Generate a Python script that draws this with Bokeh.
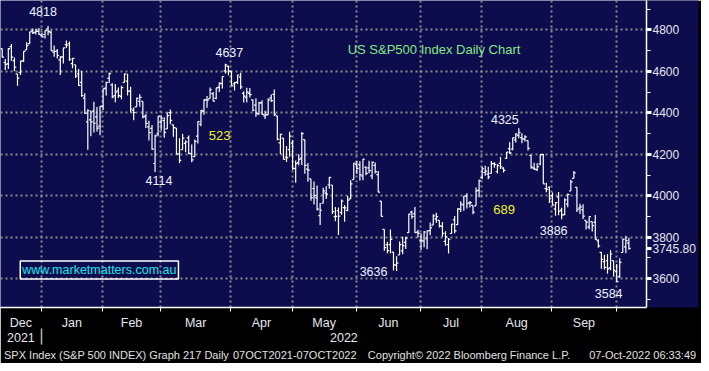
from bokeh.plotting import figure
from bokeh.models import (Range1d, FixedTicker, LinearAxis, Label,
                          CustomJSTickFormatter, ColumnDataSource)
from bokeh.embed import file_html
from bokeh.resources import INLINE
import datetime as dt

# ---------------- data (S&P 500 daily OHLC) ----------------
dates = [
 "2021-12-13","2021-12-14","2021-12-15","2021-12-16","2021-12-17","2021-12-20","2021-12-21","2021-12-22","2021-12-23","2021-12-27","2021-12-28","2021-12-29","2021-12-30","2021-12-31",
 "2022-01-03","2022-01-04","2022-01-05","2022-01-06","2022-01-07","2022-01-10","2022-01-11","2022-01-12","2022-01-13","2022-01-14","2022-01-18","2022-01-19","2022-01-20","2022-01-21","2022-01-24","2022-01-25","2022-01-26","2022-01-27","2022-01-28","2022-01-31",
 "2022-02-01","2022-02-02","2022-02-03","2022-02-04","2022-02-07","2022-02-08","2022-02-09","2022-02-10","2022-02-11","2022-02-14","2022-02-15","2022-02-16","2022-02-17","2022-02-18","2022-02-22","2022-02-23","2022-02-24","2022-02-25","2022-02-28",
 "2022-03-01","2022-03-02","2022-03-03","2022-03-04","2022-03-07","2022-03-08","2022-03-09","2022-03-10","2022-03-11","2022-03-14","2022-03-15","2022-03-16","2022-03-17","2022-03-18","2022-03-21","2022-03-22","2022-03-23","2022-03-24","2022-03-25","2022-03-28","2022-03-29","2022-03-30","2022-03-31",
 "2022-04-01","2022-04-04","2022-04-05","2022-04-06","2022-04-07","2022-04-08","2022-04-11","2022-04-12","2022-04-13","2022-04-14","2022-04-18","2022-04-19","2022-04-20","2022-04-21","2022-04-22","2022-04-25","2022-04-26","2022-04-27","2022-04-28","2022-04-29",
 "2022-05-02","2022-05-03","2022-05-04","2022-05-05","2022-05-06","2022-05-09","2022-05-10","2022-05-11","2022-05-12","2022-05-13","2022-05-16","2022-05-17","2022-05-18","2022-05-19","2022-05-20","2022-05-23","2022-05-24","2022-05-25","2022-05-26","2022-05-27","2022-05-31",
 "2022-06-01","2022-06-02","2022-06-03","2022-06-06","2022-06-07","2022-06-08","2022-06-09","2022-06-10","2022-06-13","2022-06-14","2022-06-15","2022-06-16","2022-06-17","2022-06-21","2022-06-22","2022-06-23","2022-06-24","2022-06-27","2022-06-28","2022-06-29","2022-06-30",
 "2022-07-01","2022-07-05","2022-07-06","2022-07-07","2022-07-08","2022-07-11","2022-07-12","2022-07-13","2022-07-14","2022-07-15","2022-07-18","2022-07-19","2022-07-20","2022-07-21","2022-07-22","2022-07-25","2022-07-26","2022-07-27","2022-07-28","2022-07-29",
 "2022-08-01","2022-08-02","2022-08-03","2022-08-04","2022-08-05","2022-08-08","2022-08-09","2022-08-10","2022-08-11","2022-08-12","2022-08-15","2022-08-16","2022-08-17","2022-08-18","2022-08-19","2022-08-22","2022-08-23","2022-08-24","2022-08-25","2022-08-26","2022-08-29","2022-08-30","2022-08-31",
 "2022-09-01","2022-09-02","2022-09-06","2022-09-07","2022-09-08","2022-09-09","2022-09-12","2022-09-13","2022-09-14","2022-09-15","2022-09-16","2022-09-19","2022-09-20","2022-09-21","2022-09-22","2022-09-23","2022-09-26","2022-09-27","2022-09-28","2022-09-29","2022-09-30",
 "2022-10-03","2022-10-04","2022-10-05","2022-10-06",
]
opens = [
 4710.30,4642.99,4636.46,4719.13,4652.50,4587.90,4594.96,4650.36,4703.96,4733.99,4795.49,4788.64,4794.23,4775.21,
 4778.14,4804.51,4787.99,4693.39,4697.66,4655.34,4669.14,4728.59,4733.56,4637.99,4632.24,4588.03,4547.35,4471.38,4356.32,4366.64,4408.43,4380.58,4336.19,4431.79,
 4519.57,4566.39,4535.41,4482.79,4505.75,4480.02,4547.00,4553.24,4506.27,4412.61,4429.28,4455.75,4456.06,4384.57,4332.74,4324.93,4155.77,4298.38,4354.17,
 4363.14,4322.56,4401.31,4342.12,4327.01,4202.66,4223.10,4252.55,4279.50,4202.75,4188.82,4288.14,4345.11,4407.34,4462.40,4469.10,4493.10,4469.98,4522.66,4541.09,4602.86,4624.20,4599.02,
 4540.32,4547.97,4572.45,4494.17,4474.65,4494.15,4462.64,4437.59,4394.30,4449.12,4385.63,4390.63,4472.26,4489.17,4385.83,4255.34,4278.14,4186.52,4222.58,4253.75,
 4130.61,4159.78,4181.18,4270.43,4128.17,4081.27,4035.18,3990.08,3903.95,3963.90,4013.02,4052.00,4051.98,3899.00,3927.76,3919.42,3942.94,3929.59,3984.60,4077.43,4151.09,
 4149.78,4095.41,4137.57,4134.72,4096.47,4147.12,4101.65,3974.39,3838.15,3763.52,3764.05,3728.18,3665.90,3715.31,3733.89,3774.71,3821.75,3920.76,3913.00,3825.09,3785.99,
 3781.00,3792.61,3831.98,3858.85,3888.26,3880.94,3851.95,3779.67,3763.99,3818.00,3883.79,3860.73,3935.32,3955.47,3998.43,3965.72,3953.22,3951.43,4026.13,4087.33,
 4112.38,4104.21,4107.96,4154.85,4115.87,4155.93,4133.11,4181.02,4227.40,4225.02,4269.37,4290.46,4280.40,4273.13,4266.31,4195.08,4133.09,4126.55,4153.26,4198.74,4034.58,4041.25,4000.67,
 3936.73,3994.66,3930.89,3909.43,3959.94,4022.94,4083.67,4040.90,3940.73,3932.41,3880.95,3849.91,3875.23,3871.40,3782.36,3727.14,3682.72,3686.44,3651.94,3687.01,3633.48,
 3609.78,3726.46,3753.25,3771.97,
]
highs = [
 4710.30,4660.47,4712.60,4731.99,4666.70,4587.90,4651.14,4697.67,4740.74,4791.49,4807.02,4804.06,4808.93,4786.83,
 4796.64,4818.62,4797.70,4725.01,4707.95,4673.02,4714.13,4748.83,4744.13,4665.13,4632.24,4611.55,4602.11,4494.52,4417.35,4411.01,4453.23,4428.74,4432.72,4516.89,
 4550.49,4595.31,4542.88,4539.66,4521.86,4531.32,4590.03,4588.92,4526.33,4426.22,4472.77,4489.55,4456.06,4394.60,4362.12,4341.51,4294.73,4385.34,4388.84,
 4378.45,4401.48,4416.78,4342.12,4327.01,4276.94,4299.40,4268.28,4291.01,4247.57,4271.05,4358.90,4412.67,4465.40,4481.75,4522.00,4501.07,4520.58,4546.03,4575.65,4637.30,4627.77,4603.07,
 4548.70,4583.50,4593.45,4503.94,4521.16,4520.41,4464.35,4471.00,4453.92,4460.46,4410.31,4471.03,4488.29,4512.94,4385.83,4299.02,4278.14,4240.71,4308.45,4269.68,
 4169.81,4200.10,4307.66,4270.43,4157.69,4081.27,4068.82,4049.09,3964.80,4038.88,4046.46,4090.72,4051.98,3945.96,3943.42,3981.88,3955.68,3999.33,4075.14,4158.49,4168.34,
 4166.54,4177.51,4142.67,4168.78,4164.86,4160.14,4119.10,3974.39,3838.15,3778.18,3837.56,3728.18,3707.71,3779.65,3801.79,3802.58,3913.65,3927.72,3945.86,3836.50,3818.99,
 3829.82,3832.19,3870.91,3910.63,3918.50,3880.94,3873.41,3829.44,3796.41,3863.62,3902.44,3939.81,3974.13,3999.29,4012.44,3975.30,3953.22,4039.56,4078.95,4140.15,
 4144.95,4140.47,4167.66,4161.29,4151.58,4186.62,4137.30,4211.03,4257.91,4280.47,4301.79,4325.28,4302.18,4292.53,4266.31,4195.08,4159.77,4156.56,4200.54,4203.04,4062.99,4044.98,4015.37,
 3970.23,4018.43,3942.55,3987.89,4010.50,4076.81,4119.28,4040.90,3961.94,3959.14,3880.95,3900.45,3876.01,3907.07,3790.68,3727.14,3715.67,3717.53,3736.74,3687.01,3671.44,
 3698.35,3791.92,3806.91,3797.93,
]
lows = [
 4667.60,4606.52,4611.22,4651.89,4600.22,4531.10,4583.16,4645.53,4703.96,4733.99,4780.04,4778.08,4775.33,4765.75,
 4758.17,4774.27,4699.44,4671.26,4662.74,4582.24,4638.27,4712.40,4650.29,4614.75,4568.70,4530.20,4477.95,4395.34,4222.62,4287.11,4304.80,4309.50,4292.46,4414.02,
 4483.53,4544.32,4470.39,4451.50,4471.47,4465.40,4547.00,4484.31,4401.41,4364.84,4429.28,4429.68,4373.81,4327.22,4267.11,4221.51,4114.65,4286.83,4315.12,
 4279.54,4322.56,4345.56,4284.98,4199.85,4157.87,4223.10,4209.80,4200.49,4161.72,4187.90,4251.99,4335.65,4390.57,4424.30,4469.10,4455.81,4465.17,4501.07,4517.69,4589.66,4581.32,4530.41,
 4507.57,4539.21,4514.17,4450.04,4450.30,4474.60,4408.38,4381.34,4392.70,4390.77,4370.30,4390.63,4452.02,4384.47,4267.62,4200.82,4175.04,4162.90,4188.63,4124.28,
 4062.51,4147.08,4148.91,4106.01,4067.91,3975.48,3958.17,3928.82,3858.87,3963.90,3983.99,4033.93,3911.91,3876.58,3810.32,3909.04,3875.13,3925.03,3984.60,4077.43,4104.88,
 4073.85,4074.37,4098.67,4109.18,4080.19,4107.20,4017.17,3900.16,3734.30,3722.30,3722.30,3639.77,3636.87,3715.31,3717.69,3743.52,3821.75,3889.66,3820.14,3799.02,3738.67,
 3752.10,3742.06,3809.37,3858.85,3869.34,3847.22,3802.36,3759.07,3721.56,3817.18,3818.63,3860.73,3922.03,3927.64,3938.85,3943.46,3910.74,3951.43,3992.97,4079.22,
 4096.02,4079.81,4107.96,4135.42,4107.31,4128.97,4112.09,4177.26,4201.41,4219.78,4256.90,4277.77,4253.08,4261.98,4218.70,4129.86,4124.03,4119.97,4147.59,4057.66,4017.42,3965.21,3954.53,
 3903.65,3906.21,3886.75,3906.03,3944.81,4022.94,4083.67,3921.73,3912.66,3888.28,3837.08,3838.50,3827.54,3789.49,3749.64,3647.47,3644.76,3623.76,3640.61,3610.40,3584.13,
 3604.93,3726.46,3722.66,3739.22,
]
closes = [
 4668.97,4634.09,4709.85,4668.67,4620.64,4568.02,4649.23,4696.56,4725.79,4791.19,4786.35,4793.06,4778.73,4766.18,
 4796.56,4793.54,4700.58,4696.05,4677.03,4670.29,4713.07,4726.35,4659.03,4662.85,4577.11,4532.76,4482.73,4397.94,4410.13,4356.45,4349.93,4326.51,4431.85,4515.55,
 4546.54,4589.38,4477.44,4500.53,4483.87,4521.54,4587.18,4504.08,4418.64,4401.67,4471.07,4475.01,4380.26,4348.87,4304.76,4225.50,4288.70,4384.65,4373.94,
 4306.26,4386.54,4363.49,4328.87,4201.09,4170.70,4277.88,4259.52,4204.31,4173.11,4262.45,4357.86,4411.67,4463.12,4461.18,4511.61,4456.24,4520.16,4543.06,4575.52,4631.60,4602.45,4530.41,
 4545.86,4582.64,4525.12,4481.15,4500.21,4488.28,4412.53,4397.45,4446.59,4392.59,4391.69,4462.21,4459.45,4393.66,4271.78,4296.12,4175.20,4183.96,4287.50,4131.93,
 4155.38,4175.48,4300.17,4146.87,4123.34,3991.24,4001.05,3935.18,3930.08,4023.89,4008.01,4088.85,3923.68,3900.79,3901.36,3973.75,3941.48,3978.73,4057.84,4158.24,4132.15,
 4101.23,4176.82,4108.54,4121.43,4160.68,4115.77,4017.82,3900.86,3749.63,3735.48,3789.99,3666.77,3674.84,3764.79,3759.89,3795.73,3911.74,3900.11,3821.55,3818.83,3785.38,
 3825.33,3831.39,3845.08,3902.62,3899.38,3854.43,3818.80,3801.78,3790.38,3863.16,3830.85,3936.69,3959.90,3998.95,3961.63,3966.84,3921.05,4023.61,4072.43,4130.29,
 4118.63,4091.19,4155.17,4151.94,4145.19,4140.06,4122.47,4210.24,4207.27,4280.15,4297.14,4305.20,4274.04,4283.74,4228.48,4137.99,4128.73,4140.77,4199.12,4057.66,4030.61,3986.16,3955.00,
 3966.85,3924.26,3908.19,3979.87,4006.18,4067.36,4110.41,3932.69,3946.01,3901.35,3873.33,3899.89,3855.93,3789.93,3757.99,3693.23,3655.04,3647.29,3719.04,3640.47,3585.62,
 3678.43,3790.93,3783.28,3745.80,
]

# price-axis ticks
price_ticks = [3600, 3800, 4000, 4200, 4400, 4600, 4800]
price_minor = [3500, 3700, 3900, 4100, 4300, 4500, 4700, 4900]

# swing points annotated on the chart
pivot_dates = ["2022-01-04", "2022-03-29", "2022-02-24", "2022-06-17", "2022-08-16", "2022-09-06", "2022-09-30"]
pivot_kinds = ["high", "high", "low", "low", "high", "low", "low"]
pivot_dx = [-5, 4, 4, -23, -14, -8, -8]
pivot_dy = [15, 11, -8, 0, 9, -11, -12]

footer_texts = ["SPX Index (S&P 500 INDEX) Graph 217  Daily", "07OCT2021-07OCT2022",
                "Copyright\u00a9 2022 Bloomberg Finance L.P.", "07-Oct-2022 06:33:49"]
footer_pos = [23.9, 81.7, 138.7, 195.5]

# ---------------- styling constants ----------------
NAVY = "#0d0c4c"
GRID = "#8c8c8c"
TXT = "#e6e6ee"
SANS = "Liberation Sans"
W, H = 701, 363
BORDER_R, BORDER_B = 55, 50

i0 = dates.index("2022-01-03")
xs = [i - i0 for i in range(len(dates))]

X0, X1 = -14.56, 196.76
Y0, Y1 = 3461.0, 4942.1

p = figure(width=W, height=H, output_backend="svg", toolbar_location=None, title=None,
           x_range=Range1d(X0, X1), y_range=Range1d(Y0, Y1), y_axis_location="right",
           min_border_left=0, min_border_top=0, min_border_right=BORDER_R, min_border_bottom=BORDER_B,
           background_fill_color=NAVY, border_fill_color="black", outline_line_color=None)

# ---------------- month boundaries & labels ----------------
boundaries = []
for i in range(1, len(dates)):
    if dates[i][:7] != dates[i - 1][:7]:
        boundaries.append(xs[i] - 1.2)
month_names = []
for i in range(len(dates)):
    if i == 0 or dates[i][:7] != dates[i - 1][:7]:
        month_names.append(dt.date.fromisoformat(dates[i]).strftime("%b"))
edges = [X0] + boundaries
month_mids, month_lbls = [], []
for k in range(len(edges) - 1):
    month_mids.append((edges[k] + edges[k + 1]) / 2)
    month_lbls.append(month_names[k])

year_mids = [(X0 + boundaries[0]) / 2, (boundaries[0] + X1) / 2]
year_lbls = [dates[0][:4], dates[-1][:4]]

fmt_code = """
for (let i = 0; i < t.length; i++) { if (Math.abs(t[i] - tick) < 1e-6) return s[i]; }
return '';
"""

# ---------------- grid ----------------
p.ygrid.ticker = FixedTicker(ticks=price_ticks)
p.xgrid.ticker = FixedTicker(ticks=boundaries)
for g in (p.xgrid, p.ygrid):
    g.grid_line_color = GRID
    g.grid_line_width = 2
    g.grid_line_dash = "2 3"

# ---------------- OHLC bars ----------------
src = ColumnDataSource(dict(x=xs, o=opens, h=highs, l=lows, c=closes,
                            xl=[x - 0.6 for x in xs], xr=[x + 0.6 for x in xs]))
p.segment(x0="x", y0="l", x1="x", y1="h", source=src, line_color="white", line_width=1.2)
p.segment(x0="xl", y0="o", x1="x", y1="o", source=src, line_color="white", line_width=1.2)
p.segment(x0="x", y0="c", x1="xr", y1="c", source=src, line_color="white", line_width=1.2)

# ---------------- right price axis (with the last close as an extra tick) ----------------
last_close = closes[-1]
ya = p.yaxis[0]
ya.ticker = FixedTicker(ticks=price_ticks + [last_close], minor_ticks=price_minor)
ya.formatter = CustomJSTickFormatter(
    code="return Number.isInteger(tick) ? tick.toString() : tick.toFixed(2);")
ya.axis_line_color = "white"
ya.axis_line_width = 1.5
ya.major_tick_line_color = "white"
ya.major_tick_line_width = 3
ya.major_tick_out = 5
ya.major_tick_in = 0
ya.minor_tick_line_color = "white"
ya.minor_tick_out = 4
ya.minor_tick_in = 0
ya.major_label_standoff = 1
ya.major_label_text_font = SANS
ya.major_label_text_font_size = "12px"
ya.major_label_text_color = TXT

# ---------------- bottom month axis ----------------
xa = p.xaxis[0]
xa.ticker = FixedTicker(ticks=month_mids, minor_ticks=boundaries)
xa.formatter = CustomJSTickFormatter(args=dict(t=month_mids, s=month_lbls), code=fmt_code)
xa.axis_line_color = "white"
xa.axis_line_width = 1.5
xa.major_tick_line_color = None
xa.major_tick_out = 0
xa.major_tick_in = 0
xa.minor_tick_line_color = "white"
xa.minor_tick_out = 4
xa.minor_tick_in = 0
xa.major_label_standoff = 4
xa.major_label_text_font = SANS
xa.major_label_text_font_size = "12.5px"
xa.major_label_text_color = TXT

# year row
yr = LinearAxis(ticker=FixedTicker(ticks=year_mids),
                formatter=CustomJSTickFormatter(args=dict(t=year_mids, s=year_lbls), code=fmt_code))
yr.axis_line_color = None
yr.major_tick_line_color = None
yr.minor_tick_line_color = None
yr.major_tick_out = 0
yr.major_tick_in = 0
yr.minor_tick_out = 0
yr.minor_tick_in = 0
yr.major_label_standoff = 0
yr.major_label_text_font = SANS
yr.major_label_text_font_size = "12.5px"
yr.major_label_text_color = TXT
p.add_layout(yr, "below")

# footer row (the year separator is its inward minor tick)
ft = LinearAxis(ticker=FixedTicker(ticks=footer_pos, minor_ticks=[boundaries[0]]),
                formatter=CustomJSTickFormatter(args=dict(t=footer_pos, s=footer_texts), code=fmt_code))
ft.axis_line_color = None
ft.major_tick_line_color = None
ft.major_tick_out = 0
ft.major_tick_in = 0
ft.minor_tick_line_color = "#b4b4b4"
ft.minor_tick_line_width = 1.5
ft.minor_tick_out = 0
ft.minor_tick_in = 16
ft.major_label_standoff = 4
ft.major_label_text_font = SANS
ft.major_label_text_font_size = "11px"
ft.major_label_text_color = "#e0e0e0"
p.add_layout(ft, "below")

if "background_fill_color" in ya.properties():
    ya.background_fill_color = NAVY

# ---------------- annotations ----------------
vals = {}
for d, k, dx, dy in zip(pivot_dates, pivot_kinds, pivot_dx, pivot_dy):
    i = dates.index(d)
    v = highs[i] if k == "high" else lows[i]
    vals[d] = int(v)
    p.add_layout(Label(x=xs[i], y=v, x_offset=dx, y_offset=dy, text=str(int(v)),
                       text_align="center", text_baseline="middle", text_color="#eef2ff",
                       text_font=SANS, text_font_size="12.5px"))

drop1 = vals["2022-03-29"] - vals["2022-02-24"]
drop2 = vals["2022-08-16"] - vals["2022-06-17"]
p.add_layout(Label(x=57.1, y=4289.6, text=str(drop1), text_align="center", text_baseline="middle",
                   text_color="#f2f224", text_font=SANS, text_font_size="13px"))
p.add_layout(Label(x=150.2, y=3933.2, text=str(drop2), text_align="center", text_baseline="middle",
                   text_color="#f2f224", text_font=SANS, text_font_size="13px"))

p.add_layout(Label(x=99.0, y=4706.0, text="US S&P500 Index Daily Chart", text_align="left",
                   text_baseline="middle", text_color="#86e886", text_font=SANS, text_font_size="13px"))

p.add_layout(Label(x=-8.1, y=3641.5, text="www.marketmatters.com.au", text_align="left",
                   text_baseline="middle", text_color="#19e6f0", text_font=SANS, text_font_size="12.5px",
                   border_line_color="white", border_line_width=1.5, padding=2))

open("out.html", "w").write(file_html(p, INLINE))
